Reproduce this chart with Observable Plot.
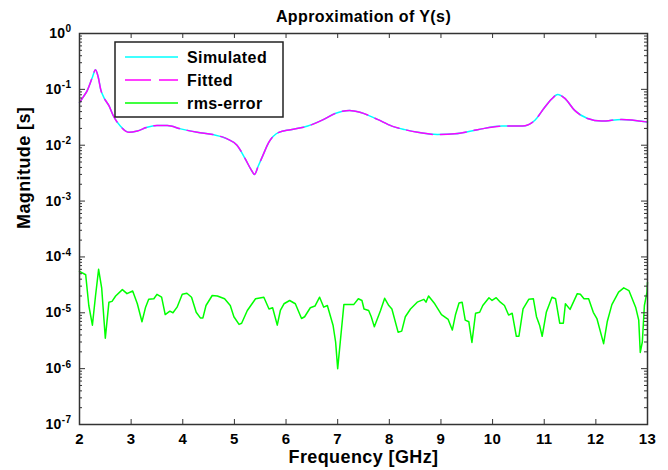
<!DOCTYPE html>
<html><head><meta charset="utf-8">
<script src="https://cdn.jsdelivr.net/npm/d3@7"></script>
<script src="https://cdn.jsdelivr.net/npm/@observablehq/plot@0.6"></script>
<style>
body{margin:0;background:#fff;}
#wrap{position:relative;width:668px;height:470px;font-family:'Liberation Sans',Arial,sans-serif;}
#legend{position:absolute;left:0;top:0;pointer-events:none;}
</style></head><body><div id="wrap"></div>
<script>
// ---------- data ----------
const magFreq = [2.00,2.08,2.15,2.25,2.31,2.36,2.41,2.47,2.57,2.66,2.79,2.96,3.12,3.31,3.50,3.70,3.96,4.28,4.60,4.86,5.05,5.21,5.32,5.39,5.46,5.55,5.66,5.86,6.09,6.42,6.73,6.95,7.23,7.43,7.77,8.05,8.30,8.55,8.93,9.27,9.71,10.18,10.58,10.82,11.01,11.15,11.26,11.40,11.59,11.84,12.11,12.50,13.00];
const simulated = [0.058,0.075,0.095,0.165,0.225,0.17,0.10,0.072,0.051,0.033,0.022,0.017,0.018,0.021,0.0225,0.0225,0.0196,0.017,0.0154,0.013,0.010,0.0057,0.0037,0.003,0.0042,0.0065,0.011,0.017,0.019,0.022,0.029,0.037,0.042,0.039,0.029,0.022,0.019,0.017,0.0155,0.016,0.019,0.022,0.022,0.028,0.048,0.068,0.081,0.069,0.042,0.030,0.027,0.029,0.026];
const fitted = [0.058,0.075,0.095,0.165,0.225,0.17,0.10,0.072,0.051,0.033,0.022,0.017,0.018,0.021,0.0225,0.0225,0.0196,0.017,0.0154,0.013,0.010,0.0057,0.0037,0.003,0.0042,0.0065,0.011,0.017,0.019,0.022,0.029,0.037,0.042,0.039,0.029,0.022,0.019,0.017,0.0155,0.016,0.019,0.022,0.022,0.028,0.048,0.068,0.081,0.069,0.042,0.030,0.027,0.029,0.026];
const errFreq = [2.00,2.12,2.18,2.25,2.31,2.37,2.43,2.50,2.57,2.63,2.70,2.83,2.92,3.03,3.12,3.21,3.28,3.34,3.44,3.50,3.59,3.66,3.75,3.81,3.89,3.99,4.08,4.17,4.26,4.34,4.39,4.45,4.57,4.67,4.81,
 4.92,4.99,5.09,5.14,5.25,5.41,5.57,5.67,5.74,5.83,5.89,5.96,6.07,6.18,6.30,6.36,6.47,6.56,6.65,6.73,6.80,6.91,6.96,7.00,7.05,7.12,7.21,7.31,7.40,7.47,
 7.51,7.60,7.65,7.71,7.83,7.91,7.99,8.05,8.17,8.24,8.31,8.41,8.54,8.67,8.71,8.76,8.88,9.01,9.14,9.22,9.28,9.35,9.41,9.47,9.54,9.60,9.67,9.75,9.81,9.93,9.99,10.07,10.15,
 10.23,10.31,10.38,10.46,10.51,10.59,10.70,10.79,10.85,10.91,10.96,11.04,11.15,11.22,11.30,11.37,11.41,11.50,11.64,11.70,11.77,11.86,11.95,12.02,12.15,12.22,12.31,12.44,12.54,12.64,12.77,12.83,12.86,12.90,12.94,12.99,13.00];
const rmsError = [5.5e-5,4.8e-5,1.35e-5,6.0e-6,2.0e-5,6.0e-5,2.75e-5,3.5e-6,1.55e-5,1.6e-5,2.0e-5,2.6e-5,2.2e-5,2.45e-5,1.45e-5,6.9e-6,1.26e-5,1.74e-5,1.78e-5,2.14e-5,1.9e-5,9.3e-6,1.07e-5,1.0e-5,1.26e-5,2.14e-5,2.24e-5,1.9e-5,1.02e-5,8.1e-6,8.1e-6,1.35e-5,2.04e-5,2.0e-5,1.78e-5,
 1.35e-5,8.5e-6,6.2e-6,6.5e-6,1.1e-5,1.78e-5,1.9e-5,1.17e-5,1.23e-5,6.0e-6,1.1e-5,1.45e-5,1.66e-5,1.45e-5,7.9e-6,8.5e-6,1.23e-5,1.32e-5,1.9e-5,1.26e-5,1.35e-5,6.0e-6,3.0e-6,1.0e-6,3.0e-6,1.4e-5,1.4e-5,1.4e-5,1.78e-5,1.66e-5,
 1.17e-5,1.1e-5,8.5e-6,5.6e-6,1.1e-5,1.82e-5,1.35e-5,1.17e-5,4.5e-6,4.7e-6,8.5e-6,1.17e-5,1.55e-5,1.74e-5,1.55e-5,2.0e-5,1.45e-5,9.3e-6,7.6e-6,4.9e-6,9.1e-6,1.5e-5,1.55e-5,7.4e-6,6.9e-6,2.95e-6,9.8e-6,1.02e-5,1.35e-5,1.86e-5,1.66e-5,1.86e-5,1.55e-5,
 1.35e-5,9.1e-6,9.8e-6,3.8e-6,3.8e-6,1.17e-5,1.74e-5,1.78e-5,8.5e-6,6.0e-6,3.8e-6,1.02e-5,1.9e-5,1.78e-5,6.5e-6,6.5e-6,1.45e-5,1.15e-5,2.2e-5,2.14e-5,1.78e-5,1.78e-5,1.02e-5,7.9e-6,2.8e-6,6.9e-6,1.4e-5,2.35e-5,2.8e-5,2.5e-5,1.26e-5,7.4e-6,1.95e-6,3.0e-6,1.35e-5,2.35e-5,3.5e-5];
const xTicks = [2,3,4,5,6,7,8,9,10,11,12,13];
const yTicks = [1e-7,1e-6,1e-5,1e-4,1e-3,1e-2,1e-1,1];
const yTickLabels = ["10^-7","10^-6","10^-5","10^-4","10^-3","10^-2","10^-1","10^0"];
const seriesNames = ["Simulated","Fitted","rms-error"];
const seriesColors = ["#00ffff","#ff00ff","#00ff00"];
const titleText = "Approximation of Y(s)";
const xLabel = "Frequency [GHz]";
const yLabel = "Magnitude [s]";

// ---------- layout ----------
const W = 668, H = 470, mL = 79, mR = 21, mT = 33, mB = 46;
const plotW = W - mL - mR, plotH = H - mT - mB;
const minorY = [];
for (let e = -7; e < 0; e++) for (let m = 2; m < 10; m++) minorY.push(m * Math.pow(10, e));
const magRows = magFreq.map((f, i) => ({f, sim: simulated[i], fit: fitted[i]}));
const errRows = errFreq.map((f, i) => ({f, e: rmsError[i]}));
const labelMap = new Map(yTicks.map((t, i) => [t, yTickLabels[i]]));
const axisCol = "#333";
const dash = "26,8";

const chart = Plot.plot({
  width: W, height: H,
  marginLeft: mL, marginRight: mR, marginTop: mT, marginBottom: mB,
  x: {domain: [2, 13]},
  y: {type: "log", domain: [1e-7, 1]},
  style: {fontFamily: "'Liberation Sans', Arial, sans-serif", fontWeight: "bold", fontSize: "15px", color: "#000", background: "#fff", overflow: "visible"},
  marks: [
    Plot.line(magRows, {x: "f", y: "sim", stroke: seriesColors[0], strokeWidth: 1.5, curve: "monotone-x"}),
    Plot.line(magRows, {x: "f", y: "fit", stroke: seriesColors[1], strokeWidth: 1.5, strokeDasharray: dash, curve: "monotone-x"}),
    Plot.line(errRows, {x: "f", y: "e", stroke: seriesColors[2], strokeWidth: 1.5}),
    Plot.ruleX(xTicks, {insetTop: plotH - 5, stroke: axisCol}),
    Plot.ruleX(xTicks, {insetBottom: plotH - 5, stroke: axisCol}),
    Plot.ruleY(yTicks, {insetRight: plotW - 6, stroke: axisCol}),
    Plot.ruleY(yTicks, {insetLeft: plotW - 6, stroke: axisCol}),
    Plot.ruleY(minorY, {insetRight: plotW - 3, stroke: axisCol}),
    Plot.ruleY(minorY, {insetLeft: plotW - 3, stroke: axisCol}),
    Plot.frame({stroke: axisCol, strokeWidth: 1.5}),
    Plot.axisX(xTicks, {tickSize: 0, tickPadding: 9, label: null, tickFormat: d => String(d), fontSize: 15}),
    Plot.axisY(yTicks, {tickSize: 0, tickPadding: 8, label: null, tickFormat: d => labelMap.get(d), fontSize: 14}),
    Plot.text([titleText], {frameAnchor: "top", lineAnchor: "middle", dy: -17, fontSize: 16, fontWeight: "bold"}),
    Plot.text([xLabel], {frameAnchor: "bottom", lineAnchor: "middle", dy: 33, fontSize: 18, fontWeight: "bold"}),
    Plot.text([yLabel], {frameAnchor: "left", lineAnchor: "middle", dx: -55, rotate: -90, fontSize: 18, fontWeight: "bold"})
  ]
});

// superscript exponents on the log-axis tick labels
const NS = "http://www.w3.org/2000/svg";
chart.querySelectorAll('[aria-label="y-axis tick label"] text').forEach(t => {
  const s = t.textContent;
  const parts = s.split("^");
  if (parts.length !== 2) return;
  t.textContent = "";
  const a = document.createElementNS(NS, "tspan"); a.textContent = parts[0];
  const b = document.createElementNS(NS, "tspan"); b.textContent = parts[1];
  b.setAttribute("dy", "-0.55em"); b.setAttribute("font-size", "10");
  t.append(a, b);
});
chart.querySelectorAll('text').forEach(t => t.style.letterSpacing = "0.4px");

const wrap = document.getElementById("wrap");
wrap.appendChild(chart);

// legend (drawn as an overlay box in the upper-left of the axes)
const leg = d3.select(wrap).append("svg").attr("id", "legend").attr("width", W).attr("height", H);
const lx = 115, ly = 42, lw = 168, lh = 75, rowH = 23;
leg.append("rect").attr("x", lx).attr("y", ly).attr("width", lw).attr("height", lh)
  .attr("fill", "#fff").attr("stroke", "#222").attr("stroke-width", 1.5);
seriesNames.forEach((name, i) => {
  const y = ly + 15 + i * rowH;
  leg.append("line").attr("x1", lx + 10).attr("x2", lx + 63).attr("y1", y).attr("y2", y)
    .attr("stroke", seriesColors[i]).attr("stroke-width", 1.5)
    .attr("stroke-dasharray", name === "Fitted" ? dash : null);
  leg.append("text").attr("x", lx + 72).attr("y", y).attr("dy", "0.35em")
    .attr("font-family", "'Liberation Sans', Arial, sans-serif").attr("font-weight", "bold")
    .attr("font-size", 16).attr("letter-spacing", "0.4px").text(name);
});
</script></body></html>
